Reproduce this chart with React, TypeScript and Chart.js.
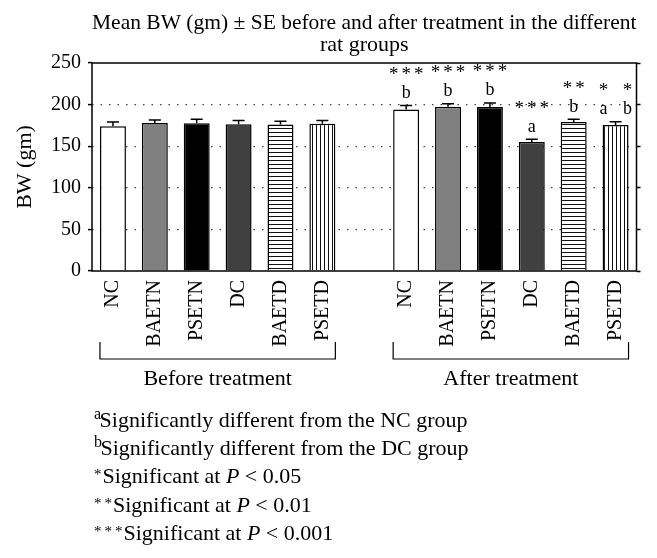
import React, { useEffect, useRef } from 'react';
import { Chart, registerables } from 'chart.js';

Chart.register(...registerables);

const SERIF = '"Liberation Serif", "Times New Roman", serif';

// ---- data ----
const categories = ['NC', 'BAETN', 'PSETN', 'DC', 'BAETD', 'PSETD', '', 'NC', 'BAETN', 'PSETN', 'DC', 'BAETD', 'PSETD'];
const meanBW = [174, 178, 177.5, 176.5, 176, 177, null, 194, 197.5, 197, 155, 179, 175.5];
const seBW = [5, 3.5, 5, 4.5, 4, 4, null, 5, 3.5, 5, 3.5, 3.5, 4];
const sigStars = ['', '', '', '', '', '', '', '***', '***', '***', '***', '**', '* *'];
const sigLetters = ['', '', '', '', '', '', '', 'b', 'b', 'b', 'a', 'b', 'a b'];
const barFills = ['white', 'gray', 'black', 'dark', 'hstripe', 'vstripe', 'white', 'white', 'gray', 'black', 'dark', 'hstripe', 'vstripe'];
const yTicks = [0, 50, 100, 150, 200, 250];
const groupLabels = ['Before treatment', 'After treatment'];
const groupFirst = [0, 7];
const groupLast = [5, 12];
const titleLines = ['Mean BW (gm) \u00B1 SE before and after treatment in the different', 'rat groups'];
const footMarks = ['a', 'b', '*', '**', '***'];
const footTexts: [string, boolean][][] = [
  [['Significantly different from the NC group', false]],
  [['Significantly different from the DC group', false]],
  [['Significant at ', false], ['P', true], [' < 0.05', false]],
  [['Significant at ', false], ['P', true], [' < 0.01', false]],
  [['Significant at ', false], ['P', true], [' < 0.001', false]],
];

function stripePattern(dir: 'h' | 'v'): CanvasPattern | string {
  const c = document.createElement('canvas');
  c.width = 4;
  c.height = 4;
  const g = c.getContext('2d');
  if (!g) return '#fff';
  g.fillStyle = '#fff';
  g.fillRect(0, 0, 4, 4);
  g.fillStyle = '#111';
  if (dir === 'h') g.fillRect(0, 0, 4, 1);
  else g.fillRect(0, 0, 1, 4);
  return g.createPattern(c, 'repeat') || '#fff';
}

const decorPlugin = {
  id: 'decor',
  afterDatasetsDraw(chart: any) {
    const { ctx, chartArea: a, scales } = chart;
    const y = scales.y;
    const meta = chart.getDatasetMeta(0);
    ctx.save();
    ctx.strokeStyle = '#000';
    ctx.lineWidth = 1.5;
    // error bars
    meta.data.forEach((bar: any, i: number) => {
      const v = meanBW[i];
      const se = seBW[i];
      if (v == null || se == null) return;
      const top = y.getPixelForValue(v);
      const et = y.getPixelForValue(v + se);
      ctx.beginPath();
      ctx.moveTo(bar.x, top);
      ctx.lineTo(bar.x, et);
      ctx.moveTo(bar.x - 6, et);
      ctx.lineTo(bar.x + 6, et);
      ctx.stroke();
    });
    // frame
    ctx.lineWidth = 1.5;
    ctx.strokeRect(a.left, a.top, a.right - a.left, a.bottom - a.top);

    // significance annotations
    ctx.fillStyle = '#000';
    ctx.textAlign = 'center';
    ctx.textBaseline = 'alphabetic';
    ctx.font = `19px ${SERIF}`;
    const sm = ctx.measureText('*');
    const starShift = (sm.actualBoundingBoxAscent - sm.actualBoundingBoxDescent) / 2;
    meta.data.forEach((bar: any, i: number) => {
      const v = meanBW[i];
      const se = seBW[i];
      if (v == null || se == null) return;
      const et = y.getPixelForValue(v + se);
      const base = et - 7.5;
      const lg = sigLetters[i].split(' ').filter(Boolean);
      const sg = sigStars[i].split(' ').filter(Boolean);
      const gx = (k: number, n: number) => bar.x + (n > 1 ? (k - (n - 1) / 2) * 24 : 0);
      ctx.font = `18px ${SERIF}`;
      lg.forEach((t, k) => ctx.fillText(t, gx(k, lg.length), base));
      const starCY = base - 27.5;
      ctx.font = `19px ${SERIF}`;
      sg.forEach((t, k) => {
        const cx = gx(k, sg.length);
        for (let j = 0; j < t.length; j++) {
          ctx.fillText('*', cx + (j - (t.length - 1) / 2) * 12.5, starCY + starShift);
        }
      });
    });
    ctx.restore();
  },
  afterDraw(chart: any) {
    const { ctx, chartArea: a } = chart;
    const meta = chart.getDatasetMeta(0);
    const b = a.bottom;
    ctx.save();
    ctx.strokeStyle = '#000';
    ctx.fillStyle = '#000';
    ctx.lineWidth = 1.2;
    groupLabels.forEach((label, gi) => {
      const f = meta.data[groupFirst[gi]];
      const l = meta.data[groupLast[gi]];
      const x1 = f.x - f.width / 2;
      const x2 = l.x + l.width / 2;
      ctx.beginPath();
      ctx.moveTo(x1, b + 71);
      ctx.lineTo(x1, b + 88);
      ctx.lineTo(x2, b + 88);
      ctx.lineTo(x2, b + 71);
      ctx.stroke();
      ctx.font = `22px ${SERIF}`;
      ctx.textAlign = 'center';
      ctx.textBaseline = 'alphabetic';
      ctx.fillText(label, (x1 + x2) / 2, b + 114);
    });

    // footnotes
    ctx.textAlign = 'left';
    ctx.textBaseline = 'alphabetic';
    const x0 = 94;
    footMarks.forEach((mark, i) => {
      const base = 427 + i * 28.2;
      let x = x0;
      if (mark.indexOf('*') >= 0) {
        ctx.font = `15px ${SERIF}`;
        for (let j = 0; j < mark.length; j++) ctx.fillText('*', x0 + j * 10.5, base - 4);
        x = x0 + (mark.length - 1) * 10.5 + 8.5;
      } else {
        ctx.font = `16px ${SERIF}`;
        ctx.fillText(mark, x0, base - 8.5);
        x = x0 + ctx.measureText(mark).width - 1.5;
      }
      footTexts[i].forEach(([t, it]) => {
        ctx.font = `${it ? 'italic ' : ''}22px ${SERIF}`;
        ctx.fillText(t, x, base);
        x += ctx.measureText(t).width;
      });
    });
    ctx.restore();
  },
};

export default function App() {
  const ref = useRef<HTMLCanvasElement | null>(null);
  useEffect(() => {
    if (!ref.current) return;
    const fillMap: Record<string, any> = {
      white: '#ffffff',
      gray: '#808080',
      black: '#000000',
      dark: '#404040',
      hstripe: stripePattern('h'),
      vstripe: stripePattern('v'),
    };
    const setTicks = (s: any) => {
      s.ticks = yTicks.map((v) => ({ value: v }));
    };
    const chart = new Chart(ref.current, {
      type: 'bar',
      data: {
        labels: categories,
        datasets: [
          {
            data: meanBW as any,
            backgroundColor: barFills.map((k) => fillMap[k]),
            borderColor: '#000',
            borderWidth: 1.5,
            barPercentage: 0.62,
            categoryPercentage: 1,
          },
        ],
      },
      options: {
        responsive: false,
        animation: false,
        devicePixelRatio: 1,
        layout: { padding: 0 },
        plugins: {
          legend: { display: false },
          tooltip: { enabled: false },
          title: {
            display: true,
            text: titleLines,
            color: '#000',
            fullSize: false,
            font: { family: SERIF, size: 22, weight: 'normal', lineHeight: 1 },
            padding: { top: 12, bottom: 7 },
          },
        },
        scales: {
          x: {
            ticks: {
              color: '#000',
              font: { family: SERIF, size: 20 },
              minRotation: 90,
              maxRotation: 90,
              autoSkip: false,
              padding: 9,
            },
            grid: { display: false, drawTicks: false },
            border: { display: false },
            afterFit: (s: any) => {
              s.height = 287;
            },
          },
          y: {
            min: 0,
            max: 250,
            afterBuildTicks: setTicks,
            ticks: { color: '#000', font: { family: SERIF, size: 20 }, padding: 7 },
            grid: {
              color: (c: any) =>
                c.tick && (c.tick.value === 0 || c.tick.value === 250) ? 'rgba(0,0,0,0)' : '#444',
              lineWidth: 1.2,
              tickLength: 4,
              tickColor: '#000',
              tickWidth: 1.5,
              tickBorderDash: [],
            },
            border: { display: false, dash: [1.5, 7] },
            title: {
              display: true,
              text: 'BW (gm)',
              color: '#000',
              font: { family: SERIF, size: 22 },
              padding: { top: 12, bottom: 0 },
            },
            afterFit: (s: any) => {
              s.width = 92;
            },
          },
          y2: {
            position: 'right',
            min: 0,
            max: 250,
            afterBuildTicks: setTicks,
            ticks: { display: false },
            grid: {
              drawOnChartArea: false,
              tickLength: 4,
              tickColor: '#000',
              tickWidth: 1.5,
              color: '#000',
            },
            border: { display: false },
            afterFit: (s: any) => {
              s.width = 20.5;
            },
          },
        },
      } as any,
      plugins: [decorPlugin],
    });
    return () => chart.destroy();
  }, []);
  return (
    <canvas
      ref={ref}
      width={657}
      height={558}
      style={{ display: 'block', position: 'absolute', left: 0, top: 0, background: '#fff' }}
    />
  );
}
